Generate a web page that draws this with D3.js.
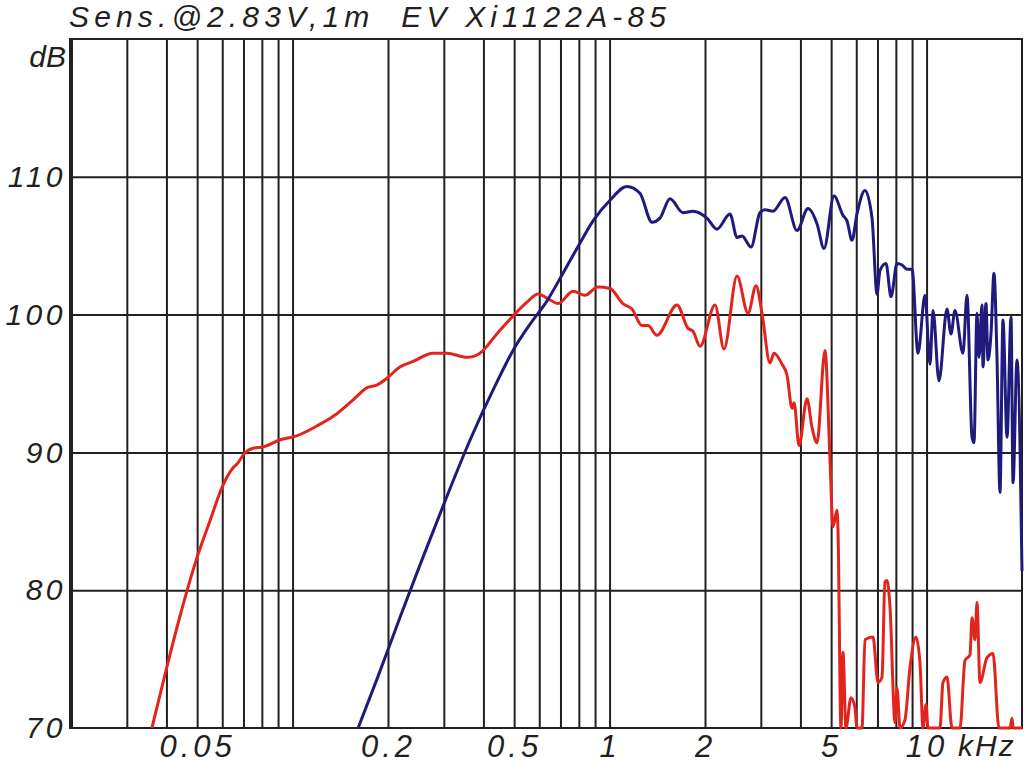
<!DOCTYPE html>
<html>
<head>
<meta charset="utf-8">
<script src="https://cdn.jsdelivr.net/npm/d3@7"></script>
<style>
  body { margin: 0; background: #fff; }
  svg { display: block; }
  text { font-family: "Liberation Sans", Arial, sans-serif; font-style: italic; fill: #231f20; }
</style>
</head>
<body>
<svg class="chart"></svg>
<script>
// frequency (Hz) / level (dB)
let redFreq = [36, 40, 44, 50, 55, 60, 65, 67, 71, 75, 81, 91, 103, 119, 134, 155, 172, 185, 199, 218, 240, 277, 307, 355, 390, 441, 496, 549, 595, 635, 688, 767, 837, 919, 1003, 1102, 1177, 1266, 1322, 1411, 1632, 1768, 1833, 1929, 2151, 2296, 2524, 2734, 2898, 3026, 3206, 3302, 3500, 3629, 3764, 3819, 3960, 4196, 4352, 4512, 4782, 4960, 5068, 5217, 5256, 5370, 5449, 5568, 5774, 5944, 6031, 6256, 6394, 6776, 7026, 7235, 7392, 7502, 7668, 7952, 8068, 8245, 8550, 8866, 9260, 9534, 9744, 9960, 10106, 11022, 11265, 11598, 12027, 12748, 13220, 13709, 13910, 14214, 14422, 14740, 15510, 16200, 16922, 18332, 18600, 18740, 20000]
let redDb = [70.0, 74.3, 78.0, 82.4, 85.1, 87.5, 88.9, 89.2, 90.0, 90.3, 90.4, 90.9, 91.2, 91.9, 92.6, 93.8, 94.7, 94.9, 95.4, 96.2, 96.6, 97.2, 97.2, 96.9, 97.2, 98.6, 99.9, 100.9, 101.5, 101.2, 100.8, 101.7, 101.4, 102.0, 101.9, 100.8, 100.4, 99.2, 99.2, 98.5, 100.7, 99.0, 98.8, 97.7, 100.7, 97.5, 102.8, 100.1, 102.1, 100.1, 96.5, 97.2, 96.4, 95.6, 93.2, 93.6, 90.5, 93.9, 91.8, 90.7, 97.4, 89.4, 84.6, 85.8, 84.3, 70.0, 75.5, 70.0, 72.2, 71.5, 70.0, 70.0, 76.4, 76.6, 73.3, 73.7, 80.6, 80.7, 78.8, 70.4, 72.9, 70.0, 70.6, 74.4, 76.6, 74.7, 70.0, 71.7, 70.0, 70.0, 73.3, 73.7, 70.0, 70.0, 74.9, 75.3, 78.0, 76.4, 79.1, 73.3, 75.1, 75.4, 70.0, 70.0, 70.7, 70.0, 70.0]

let blueFreq = [161, 185, 218, 252, 303, 363, 441, 496, 561, 635, 713, 807, 887, 1003, 1135, 1247, 1361, 1442, 1551, 1704, 1833, 2029, 2182, 2398, 2524, 2617, 2794, 2982, 3093, 3278, 3577, 3902, 4227, 4512, 4748, 5105, 5449, 5610, 5818, 6031, 6394, 6728, 6977, 7130, 7447, 7724, 8068, 8366, 8676, 8996, 9397, 9886, 10252, 10480, 10942, 11598, 11940, 12292, 13028, 13412, 13910, 14114, 14422, 14634, 14956, 15065, 15396, 15622, 15966, 16318, 16676, 17044, 17420, 17940, 18468, 18740, 19286, 20000]
let blueDb = [70.0, 73.6, 78.0, 81.8, 86.5, 90.9, 95.1, 97.4, 99.3, 101.0, 103.0, 105.2, 106.8, 108.3, 109.3, 108.8, 106.7, 107.0, 108.4, 107.4, 107.5, 107.0, 106.2, 107.3, 105.6, 105.7, 104.9, 107.4, 107.6, 107.5, 108.5, 106.1, 107.7, 106.6, 104.8, 108.6, 107.2, 106.8, 105.4, 107.3, 109.0, 107.0, 101.5, 103.2, 103.7, 101.3, 103.7, 103.6, 103.3, 103.3, 97.2, 101.4, 96.4, 100.3, 95.2, 100.4, 98.6, 100.3, 97.2, 101.4, 91.1, 90.7, 100.1, 96.9, 100.7, 96.2, 100.8, 96.7, 98.6, 103.0, 96.9, 87.1, 99.6, 91.1, 99.8, 87.8, 96.7, 81.4]

let gridFreqs = [30, 40, 50, 60, 70, 80, 90, 100, 200, 300, 400, 500, 600, 700, 800, 900, 1000, 2000, 3000, 4000, 5000, 6000, 7000, 8000, 9000, 10000]
let xTickFreqs = [50, 200, 500, 1000, 2000, 5000, 10000]
let xTickLabels = ["0.05", "0.2", "0.5", "1", "2", "5", "10"]
let yTicks = [70, 80, 90, 100, 110]
let title = "Sens.@2.83V,1m  EV Xi1122A-85"

let red = redFreq.map((f, i) => [f, redDb[i]])
let blue = blueFreq.map((f, i) => [f, blueDb[i]])

let W = 1024, H = 763
let plotL = 71, plotR = 1022, plotT = 39, plotB = 728

let svg = d3.select('.chart').attr('width', W).attr('height', H)

let x = d3.scaleLog().domain([20, 20000]).range([plotL, plotR])
let y = d3.scaleLinear().domain([70, 120]).range([plotB, plotT])

// grid lines
svg.append('g')
    .attr('transform', 'translate(0,' + plotB + ')')
    .call(d3.axisBottom(x).tickValues(gridFreqs).tickSize(-(plotB - plotT)).tickFormat(''))
    .call(g => g.select('.domain').remove())
    .selectAll('line').attr('stroke', '#231f20').attr('stroke-width', 2)

svg.append('g')
    .attr('transform', 'translate(' + plotL + ',0)')
    .call(d3.axisLeft(y).tickValues([80, 90, 100, 110]).tickSize(-(plotR - plotL)).tickFormat(''))
    .call(g => g.select('.domain').remove())
    .selectAll('line').attr('stroke', '#231f20').attr('stroke-width', 2)

// frame
svg.append('rect')
    .attr('x', plotL).attr('y', plotT)
    .attr('width', plotR - plotL).attr('height', plotB - plotT)
    .attr('fill', 'none').attr('stroke', '#231f20').attr('stroke-width', 2)
svg.append('line')
    .attr('x1', plotL).attr('x2', plotL).attr('y1', plotT - 1).attr('y2', plotB + 1)
    .attr('stroke', '#231f20').attr('stroke-width', 4)

// tick labels
let xLab = svg.append('g')
    .attr('transform', 'translate(0,' + plotB + ')')
    .call(d3.axisBottom(x).tickValues(xTickFreqs).tickSize(0).tickPadding(7)
        .tickFormat((d, i) => xTickLabels[i]))
xLab.select('.domain').remove()
xLab.selectAll('text')
    .attr('font-size', 31).attr('letter-spacing', 4).attr('fill', '#231f20')
    .style('font-family', '"Liberation Sans", Arial, sans-serif')

svg.append('text')
    .attr('x', 958).attr('y', 756)
    .attr('font-size', 30).attr('letter-spacing', 2)
    .text('kHz')

let yLab = svg.append('g')
    .attr('transform', 'translate(' + (plotL - 5) + ',0)')
    .call(d3.axisLeft(y).tickValues(yTicks).tickSize(0).tickPadding(0).tickFormat(d3.format('d')))
yLab.select('.domain').remove()
yLab.selectAll('text')
    .attr('font-size', 30).attr('letter-spacing', 3.5).attr('fill', '#231f20')
    .style('font-family', '"Liberation Sans", Arial, sans-serif')

svg.append('text')
    .attr('x', 66).attr('y', 67)
    .attr('text-anchor', 'end')
    .attr('font-size', 30)
    .text('dB')

svg.append('text')
    .attr('x', 69).attr('y', 27)
    .attr('font-size', 30)
    .attr('textLength', 597).attr('lengthAdjust', 'spacing')
    .style('white-space', 'pre')
    .text(title)

// curves
let line = d3.line()
    .x(d => x(d[0]))
    .y(d => y(d[1]))
    .curve(d3.curveMonotoneX)

svg.append('path')
    .datum(red)
    .attr('d', line)
    .attr('fill', 'none')
    .attr('stroke', '#e3241d')
    .attr('stroke-width', 3)
    .attr('stroke-linejoin', 'round')

svg.append('path')
    .datum(blue)
    .attr('d', line)
    .attr('fill', 'none')
    .attr('stroke', '#1f1a7c')
    .attr('stroke-width', 3)
    .attr('stroke-linejoin', 'round')
</script>
</body>
</html>
